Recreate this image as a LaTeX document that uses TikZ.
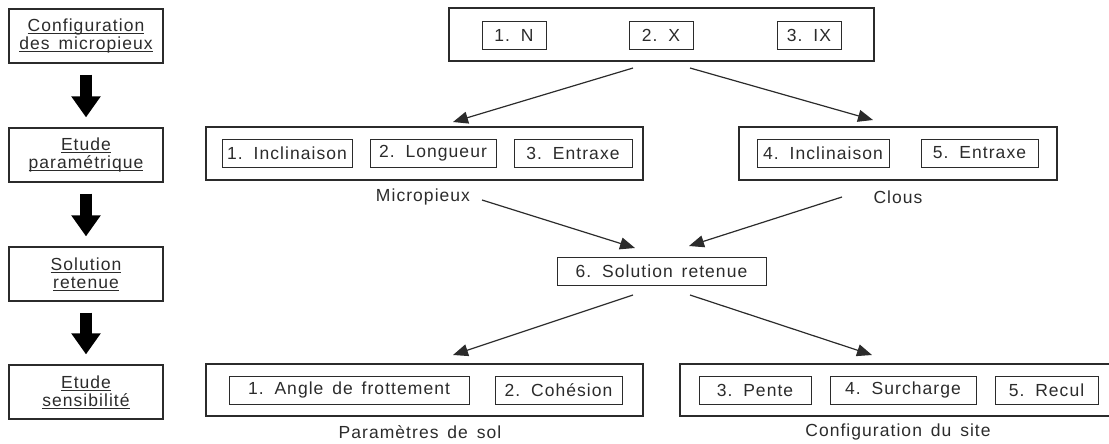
\documentclass[tikz,border=0pt]{standalone}
\usepackage{fontspec}
\setmainfont[LetterSpace=6,WordSpace=1.5]{Liberation Sans}
\usetikzlibrary{arrows.meta}
\definecolor{ink}{HTML}{2B2B2B}
\newcommand\ulx[1]{\setbox0\hbox{#1}\rlap{\rule[-2.6pt]{\wd0}{0.8pt}}\box0}
\tikzset{
  every node/.style={text=ink, font=\fontsize{17.5}{18}\selectfont},
  outerbox/.style={draw=ink, line width=1.4pt, rectangle, inner sep=0pt, minimum height=53pt},
  innerbox/.style={draw=ink, line width=0.9pt, rectangle, inner sep=0pt, minimum height=28pt},
  stagebox/.style={draw=ink, line width=1.2pt, rectangle, inner sep=0pt, minimum width=154pt, minimum height=54pt, align=center},
  flowarrow/.style={draw=ink, line width=1.2pt, -{Triangle[length=15pt,width=12pt]}},
  bigarrow/.style={draw=black, line width=12pt, -{Triangle[length=21pt,width=28pt]}},
  caption/.style={inner sep=0pt}
}
\begin{document}
\begin{tikzpicture}[x=1pt,y=-1pt]
\useasboundingbox (0,0) rectangle (1109,444);
\clip (0,0) rectangle (1109,444);
% left column
\node[stagebox] (s1) at (86,36) {\ulx{Configuration}\\\ulx{des micropieux}};
\node[stagebox] (s2) at (86,155) {\ulx{Etude}\\\ulx{paramétrique}};
\node[stagebox] (s3) at (86,274) {\ulx{Solution}\\\ulx{retenue}};
\node[stagebox] (s4) at (86,392) {\ulx{Etude}\\\ulx{sensibilité}};
\draw[bigarrow, shorten <=11pt, shorten >=10pt] (s1.south) -- (s2.north);
\draw[bigarrow, shorten <=11pt, shorten >=10pt] (s2.south) -- (s3.north);
\draw[bigarrow, shorten <=11pt, shorten >=10pt] (s3.south) -- (s4.north);
% top configurations
\node[outerbox, minimum width=425pt] (top) at (661.5,34.5) {};
\node[innerbox, minimum width=64pt] (cN) at (514,35) {1. N};
\node[innerbox, minimum width=64pt] (cX) at (661,35) {2. X};
\node[innerbox, minimum width=64pt] (cIX) at (809,35) {3. IX};
% micropieux
\node[outerbox, minimum width=437pt] (micro) at (424.5,153.5) {};
\node[innerbox, minimum width=130pt] (m1) at (287,153) {1. Inclinaison};
\node[innerbox, minimum width=126pt] (m2) at (433,153) {2. Longueur};
\node[innerbox, minimum width=118pt] (m3) at (573,153) {3. Entraxe};
\node[caption] (microlab) at (423,197) {Micropieux};
% clous
\node[outerbox, minimum width=318pt] (clous) at (898,153.5) {};
\node[innerbox, minimum width=132pt] (c4) at (823,153) {4. Inclinaison};
\node[innerbox, minimum width=117pt] (c5) at (979.5,153) {5. Entraxe};
\node[caption] (clouslab) at (898,197) {Clous};
% solution
\node[innerbox, minimum width=209pt] (sol) at (661.5,271) {6. Solution retenue};
% sol parameters
\node[outerbox, minimum width=437pt, minimum height=52pt] (soil) at (424.5,390) {};
\node[innerbox, minimum width=240pt] (p1) at (349,390) {1. Angle de frottement};
\node[innerbox, minimum width=127pt] (p2) at (558.5,390) {2. Cohésion};
\node[caption] (soillab) at (420,432) {Paramètres de sol};
% site configuration
\node[outerbox, minimum width=435pt, minimum height=52pt] (site) at (897.5,390) {};
\node[innerbox, minimum width=112pt] (p3) at (755,390) {3. Pente};
\node[innerbox, minimum width=146pt] (p4) at (903,390) {4. Surcharge};
\node[innerbox, minimum width=103pt] (p5) at (1046.5,390) {5. Recul};
\node[caption] (sitelab) at (898,432) {Configuration du site};
% connector end points
\coordinate (a1s) at (633,68);  \coordinate (a1e) at (453,122);
\coordinate (a2s) at (690,68);  \coordinate (a2e) at (873,120);
\coordinate (a3s) at (482,200); \coordinate (a3e) at (635,248);
\coordinate (a4s) at (842,197); \coordinate (a4e) at (689,246);
\coordinate (a5s) at (633,295); \coordinate (a5e) at (453,355);
\coordinate (a6s) at (690,295); \coordinate (a6e) at (872,355);
\draw[flowarrow] (a1s) -- (a1e);
\draw[flowarrow] (a2s) -- (a2e);
\draw[flowarrow] (a3s) -- (a3e);
\draw[flowarrow] (a4s) -- (a4e);
\draw[flowarrow] (a5s) -- (a5e);
\draw[flowarrow] (a6s) -- (a6e);
\end{tikzpicture}
\end{document}
